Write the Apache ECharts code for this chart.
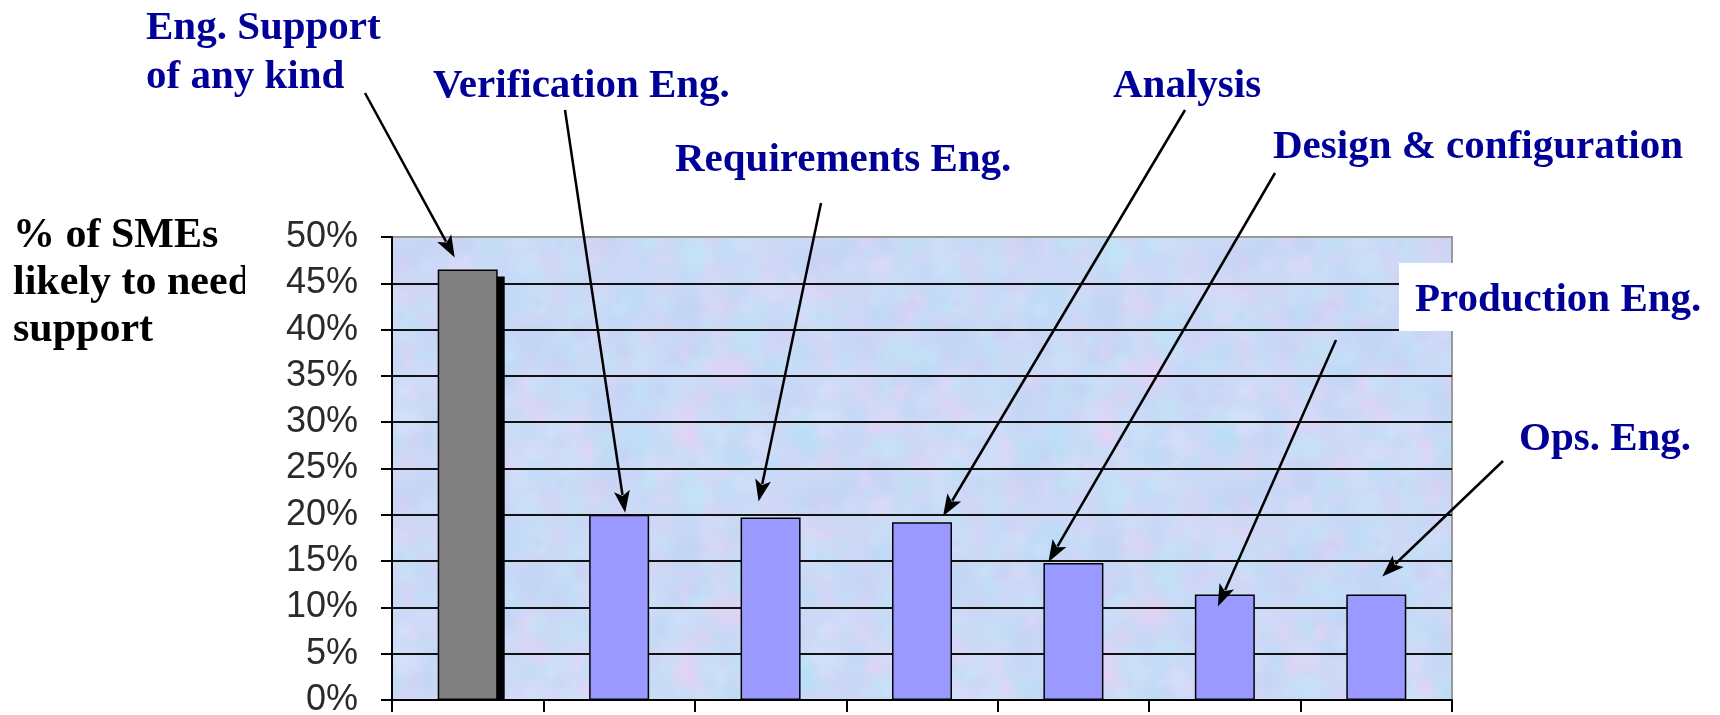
<!DOCTYPE html>
<html><head><meta charset="utf-8">
<script src="https://cdn.jsdelivr.net/npm/echarts@6/dist/echarts.min.js"></script>
<style>html,body{margin:0;padding:0;background:#fff}#c{width:1720px;height:715px}</style>
</head><body><div id="c"></div>
<script>
// ---- data ----
const categories = ['Eng. Support of any kind','Verification Eng.','Requirements Eng.','Analysis','Design & configuration','Production Eng.','Ops. Eng.'];
const values = [46.5, 20.0, 19.7, 19.2, 14.8, 11.4, 11.4];
const yTicks = [0,5,10,15,20,25,30,35,40,45,50];
const yTitleLines = ['% of SMEs','likely to need','support'];
const annotationTexts = ['Eng. Support\nof any kind','Verification Eng.','Requirements Eng.','Analysis','Design & configuration','Production Eng.','Ops. Eng.'];

// ---- layout / style ----
const labelPos = [[146,4],[433,62],[675,136],[1113,62],[1273,123],[1415,276],[1519,415]];
const arrowStart = [[365,93],[565,110],[821,203],[1185,110],[1275,173],[1336,340],[1503,461]];
const tipOffset = [[-13,-12],[6,-2],[-12,-16],[21,-6],[-25,-1],[-7,12],[6,-18]];
const barColors = ['#808080','#9999ff','#9999ff','#9999ff','#9999ff','#9999ff','#9999ff'];
const NAVY = '#000099';
const BAR_W = 60;

// mottled background texture (deterministic)
function makeTexture(){
  const c = document.createElement('canvas'); c.width = 420; c.height = 240;
  const ctx = c.getContext('2d');
  ctx.fillStyle = '#cbd8f6'; ctx.fillRect(0,0,c.width,c.height);
  const pal = ['rgba(184,222,246,','rgba(216,212,247,','rgba(192,230,247,','rgba(232,210,243,','rgba(200,206,244,','rgba(212,226,250,','rgba(190,216,245,'];
  let s = 12345; const rnd = () => (s = (s*1103515245 + 12345) % 2147483648) / 2147483648;
  for (let k=0;k<560;k++){
    const x = rnd()*c.width, y = rnd()*c.height, r = 5 + rnd()*20;
    const col = pal[Math.floor(rnd()*pal.length)];
    for (const ox of [-c.width,0,c.width]) for (const oy of [-c.height,0,c.height]){
      const gr = ctx.createRadialGradient(x+ox,y+oy,0,x+ox,y+oy,r);
      gr.addColorStop(0,col+'0.55)'); gr.addColorStop(1,col+'0)');
      ctx.fillStyle = gr; ctx.fillRect(x+ox-r,y+oy-r,2*r,2*r);
    }
  }
  return c;
}

const chart = echarts.init(document.getElementById('c'), null, {renderer:'canvas'});

chart.setOption({
  animation:false,
  backgroundColor:'#ffffff',
  grid:{left:392,right:268,top:237,bottom:15,outerBoundsMode:'none',containLabel:false,show:true,
    backgroundColor:{image:makeTexture(),repeat:'repeat'},borderColor:'#999999',borderWidth:2},
  xAxis:{type:'category',data:categories,
    axisLine:{lineStyle:{color:'#000',width:2}},
    axisTick:{show:true,interval:0,length:12,lineStyle:{color:'#000',width:2}},
    axisLabel:{show:false,interval:0},splitLine:{show:false}},
  yAxis:{type:'value',min:yTicks[0],max:yTicks[yTicks.length-1],interval:yTicks[1]-yTicks[0],
    axisLine:{show:true,lineStyle:{color:'#000',width:2}},
    axisTick:{show:true,length:11,lineStyle:{color:'#000',width:2}},
    axisLabel:{formatter:'{value}%',margin:34,fontFamily:'"Liberation Sans"',fontSize:36,color:'#2a2a2a'},
    splitLine:{show:true,showMaxLine:false,lineStyle:{color:'#111',width:2}}},
  series:[{type:'bar',barWidth:BAR_W,z:3,
    data:values.map((v,i)=>({value:v,itemStyle:{color:barColors[i],borderColor:'#000',borderWidth:1.5}}))}]
});

// annotations: texts + arrows pointing at bar tops (computed through the axes)
const g = [];
g.push({type:'text',x:13,y:213,z:-10,style:{text:yTitleLines.join('\n'),font:'bold 42px "Liberation Serif"',fill:'#000',lineHeight:47,verticalAlign:'top'}});
g.push({type:'rect',shape:{x:245,y:200,width:140,height:515},z:-5,style:{fill:'#fff'}});
g.push({type:'rect',shape:{x:1399,y:263,width:321,height:68},z:50,style:{fill:'#fff'}});
// drop shadow of the first (grey) bar
{
  const top = chart.convertToPixel({gridIndex:0},[0,values[0]]);
  const base = chart.convertToPixel({gridIndex:0},[0,yTicks[0]]);
  g.push({type:'rect',z:2,shape:{x:top[0]-BAR_W/2+7,y:top[1]+7,width:BAR_W,height:base[1]-top[1]-7},style:{fill:'#000'}});
}
annotationTexts.forEach((t,i)=>{
  g.push({type:'text',x:labelPos[i][0],y:labelPos[i][1],z:60,style:{text:t,font:'bold 41px "Liberation Serif"',fill:NAVY,lineHeight:49,verticalAlign:'top'}});
  const top = chart.convertToPixel({gridIndex:0},[i,values[i]]);
  const tx = top[0]+tipOffset[i][0], ty = top[1]+tipOffset[i][1];
  const sx = arrowStart[i][0], sy = arrowStart[i][1];
  const dx = tx-sx, dy = ty-sy, L = Math.hypot(dx,dy), ux = dx/L, uy = dy/L;
  const hl = 22, hw = 8;
  const bx = tx-ux*hl, by = ty-uy*hl;
  g.push({type:'line',z:70,shape:{x1:sx,y1:sy,x2:bx+ux*4,y2:by+uy*4},style:{stroke:'#000',lineWidth:2.5}});
  g.push({type:'polygon',z:70,shape:{points:[[tx,ty],[bx-uy*hw,by+ux*hw],[bx+ux*5,by+uy*5],[bx+uy*hw,by-ux*hw]]},style:{fill:'#000'}});
});
chart.setOption({graphic:{elements:g}});
</script></body></html>
